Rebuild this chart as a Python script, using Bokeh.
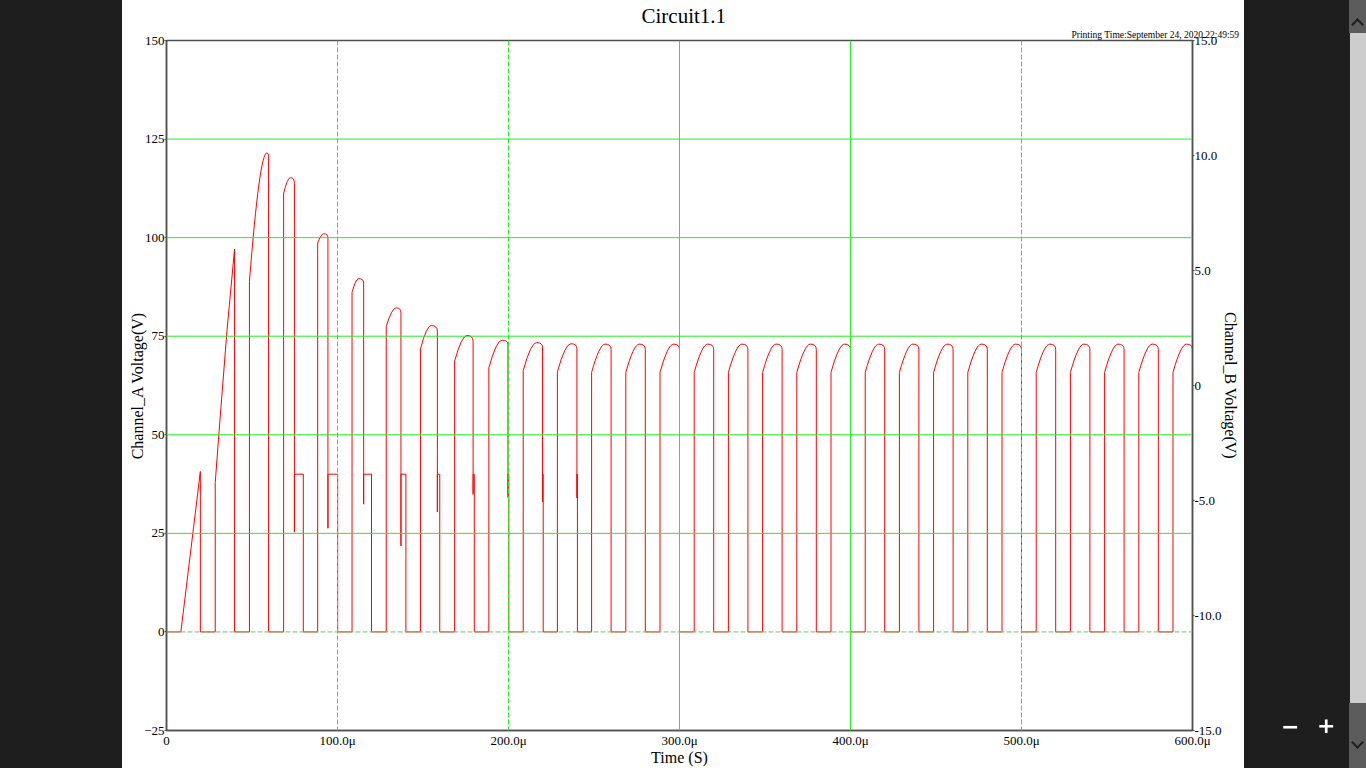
import numpy as np
from bokeh.plotting import figure
from bokeh.models import (Range1d, LinearAxis, FixedTicker, Span, Title,
                          GlobalInlineStyleSheet)
from bokeh.embed import file_html
from bokeh.resources import INLINE

# ---------------- data (time in microseconds, Channel_A voltage in V) ----------------
# start-up part: first two ramps
startup_t = [0.0, 8.4, 19.8, 19.8, 28.5, 28.5, 30.4, 35.4, 39.8, 39.8, 48.5]
startup_v = [0.0, 0.0, 40.7, 0.0, 0.0, 37.9, 48.9, 76.6, 97.1, 0.0, 0.0]

# following pulses: rise instant / level, peak, end of cap, clamp dip, hold end
rise_t = [48.5, 68.5, 88.4, 108.5, 128.5, 148.5, 168.5, 188.5, 208.6, 228.6,
          248.6, 268.6, 288.6, 308.6, 328.6, 348.6, 368.6, 388.6, 408.6, 428.6,
          448.6, 468.6, 488.6, 508.6, 528.6, 548.6, 568.6, 588.6]
rise_v = [88.9, 111.3, 98.6, 86.1, 77.5, 71.8, 68.7, 67.0, 66.3, 66.0,
          65.8, 65.8, 65.8, 65.8, 65.8, 65.8, 65.8, 65.8, 65.8, 65.8,
          65.8, 65.8, 65.8, 65.8, 65.8, 65.8, 65.8, 65.8]
peak_t = [58.7, 72.4, 91.9, 112.3, 134.3, 154.8, 175.7, 196.2, 216.4, 236.5,
          256.5, 276.5, 296.5, 316.5, 336.5, 356.5, 376.5, 396.5, 416.5, 436.5,
          456.5, 476.5, 496.5, 516.5, 536.5, 556.5, 576.5, 596.5]
peak_v = [121.5, 115.2, 101.0, 89.6, 82.2, 77.7, 75.2, 74.0, 73.4, 73.1,
          73.0, 73.0, 73.0, 73.0, 73.0, 73.0, 73.0, 73.0, 73.0, 73.0,
          73.0, 73.0, 73.0, 73.0, 73.0, 73.0, 73.0, 73.0]
cap_t = [59.7, 74.8, 94.4, 115.3, 137.1, 158.4, 179.3, 199.7, 219.9, 240.0,
         260.0, 280.0, 300.0, 320.0, 340.0, 360.0, 380.0, 400.0, 420.0, 440.0,
         460.0, 480.0, 500.0, 520.0, 540.0, 560.0, 580.0, 600.0]
cap_v = [120.5, 113.8, 99.9, 88.5, 80.9, 76.3, 73.7, 72.9, 72.2, 71.8,
         71.6, 71.6, 71.6, 71.6, 71.6, 71.6, 71.6, 71.6, 71.6, 71.6,
         71.6, 71.6, 71.6, 71.6, 71.6, 71.6, 71.6, 71.6]
dip_v = [None, 25.3, 26.3, 32.4, 21.8, 30.4, 34.9, 34.1, 33.0, 34.0,
         None, None, None, None, None, None, None, None, None, None,
         None, None, None, None, None, None, None, 33.7]
hold_end_t = [None, 80.0, 100.1, 119.9, 140.0, 159.8, 180.0, 200.2, 220.3, 240.3,
              None, None, None, None, None, None, None, None, None, None,
              None, None, None, None, None, None, None, None]
hold_v = 40.0

x_ticks = [0, 100, 200, 300, 400, 500, 600]
x_tick_labels = ["0", "100.0\u03bc", "200.0\u03bc", "300.0\u03bc", "400.0\u03bc", "500.0\u03bc", "600.0\u03bc"]
y_ticks = [-25, 0, 25, 50, 75, 100, 125, 150]
yb_ticks = [-15, -10, -5, 0, 5, 10, 15]
yb_tick_labels = ["-15.0", "-10.0", "-5.0", "0", "5.0", "10.0", "15.0"]
grid_x_dashed = [100, 200, 500]
grid_x_solid = [300, 400]
grid_y_solid = [25, 50, 75, 100, 125]
grid_y_dashed = [0]

# ---------------- build trace pieces ----------------
xs, ys = [], []
xs.append(list(startup_t) + [rise_t[0]])
ys.append(list(startup_v) + [rise_v[0]])
n = len(rise_t)
for i in range(n):
    px = [cap_t[i]]
    py = [cap_v[i]]
    if dip_v[i] is not None:
        px.append(cap_t[i]); py.append(dip_v[i])
        if hold_end_t[i] is not None:
            px += [cap_t[i], hold_end_t[i], hold_end_t[i]]
            py += [hold_v, hold_v, 0.0]
    else:
        px.append(cap_t[i]); py.append(0.0)
    if i + 1 < n and (dip_v[i] is None or hold_end_t[i] is not None):
        px += [rise_t[i + 1], rise_t[i + 1]]
        py += [0.0, rise_v[i + 1]]
    xs.append(px)
    ys.append(py)

arc_bend = 0.58
rt = np.array(rise_t); pt = np.array(peak_t)
ctrl_t = rt + arc_bend * (pt - rt)

SERIF = "Liberation Serif"
AX = "#505050"
GRID = "#22ee22"
RED = "#ff0000"

p = figure(width=1366, height=768, x_range=Range1d(0, 600), y_range=Range1d(-25, 150),
           output_backend="svg", toolbar_location=None,
           min_border_left=166, min_border_right=174, min_border_top=40, min_border_bottom=36,
           border_fill_color=None, background_fill_color="white",
           outline_line_color=AX, outline_line_width=1.5)
p.xgrid.visible = False
p.ygrid.visible = False

# title + printing time (stacked above the frame)
p.title.text = "Circuit1.1"
p.title.align = "left"
p.title.offset = 475
p.title.standoff = 0
p.title.text_font = SERIF
p.title.text_font_size = "21px"
p.title.text_font_style = "normal"
p.title.text_color = "black"
stamp = Title(text="Printing Time:September 24, 2020 22:49:59", align="left", offset=905,
              standoff=1, text_font=SERIF, text_font_size="9.5px",
              text_font_style="normal", text_color="black")
p.add_layout(stamp, "above")

# grid lines
for g in grid_x_dashed:
    p.add_layout(Span(location=g, dimension="height", line_color=GRID, line_width=1, line_dash="5 2"))
for g in grid_x_solid:
    p.add_layout(Span(location=g, dimension="height", line_color=GRID, line_width=1))
for g in grid_y_solid:
    p.add_layout(Span(location=g, dimension="width", line_color=GRID, line_width=1))
for g in grid_y_dashed:
    p.add_layout(Span(location=g, dimension="width", line_color="#66cc66", line_width=1, line_dash="5 2"))

# trace
p.multi_line(xs, ys, line_color=RED, line_width=1)
p.quadratic(x0=rise_t, y0=rise_v, x1=peak_t, y1=peak_v, cx=list(ctrl_t), cy=peak_v,
            line_color=RED, line_width=1)
p.quadratic(x0=peak_t, y0=peak_v, x1=cap_t, y1=cap_v, cx=cap_t, cy=peak_v,
            line_color=RED, line_width=1)

# axes
xa = p.xaxis[0]
xa.ticker = FixedTicker(ticks=x_ticks)
xa.major_label_overrides = dict(zip(x_ticks, x_tick_labels))
xa.major_tick_out = 0
xa.major_tick_in = 0
xa.minor_tick_out = 0
xa.minor_tick_in = 0
xa.major_label_standoff = 2
xa.axis_label = "Time (S)"
xa.axis_label_standoff = -2
xa.axis_line_color = AX
xa.axis_line_width = 1.5

ya = p.yaxis[0]
ya.ticker = FixedTicker(ticks=y_ticks)
ya.major_tick_out = 2
ya.major_tick_in = 0
ya.minor_tick_out = 0
ya.minor_tick_in = 0
ya.major_label_standoff = 0
ya.axis_label = "Channel_A Voltage(V)"
ya.axis_label_standoff = -5
ya.axis_line_color = AX
ya.axis_line_width = 1.5
ya.major_tick_line_color = AX

p.extra_y_ranges = {"b": Range1d(-15, 15)}
yb = LinearAxis(y_range_name="b", ticker=FixedTicker(ticks=yb_ticks))
yb.major_label_overrides = dict(zip(yb_ticks, yb_tick_labels))
yb.major_tick_out = 2
yb.major_tick_in = 0
yb.minor_tick_out = 0
yb.minor_tick_in = 0
yb.major_label_standoff = 0
yb.axis_label = "Channel_B Voltage(V)"
yb.axis_label_standoff = -3
yb.axis_line_color = AX
yb.axis_line_width = 1.5
yb.major_tick_line_color = AX
p.add_layout(yb, "right")

for ax in (xa, ya, yb):
    ax.major_label_text_font = SERIF
    ax.major_label_text_font_size = "13px"
    ax.major_label_text_color = "#000000"
    ax.axis_label_text_font = SERIF
    ax.axis_label_text_font_size = "16px"
    ax.axis_label_text_font_style = "normal"
    ax.axis_label_text_color = "#000000"

page_css = GlobalInlineStyleSheet(css="""
html { height: 100%;
  background:
    linear-gradient(#5c5c5c, #5c5c5c) 1349px 0px / 17px 33px no-repeat,
    linear-gradient(#cdcdcd, #cdcdcd) 1350px 33px / 16px 670px no-repeat,
    linear-gradient(#5c5c5c, #5c5c5c) 1349px 703px / 17px 65px no-repeat,
    linear-gradient(to right, #1e1e1e 122px, #ffffff 122px, #ffffff 1244px, #1e1e1e 1244px);
}
body { background: transparent; }
html::before { content: "\\2212"; position: fixed; left: 1281px; top: 714px;
  color: #ffffff; font: bold 22px 'DejaVu Sans'; z-index: 5; }
html::after { content: "+"; position: fixed; left: 1317px; top: 713px;
  color: #ffffff; font: bold 22px 'DejaVu Sans'; z-index: 5; }
body::before { content: ""; position: fixed; left: 1353px; top: 20px; width: 7px; height: 7px;
  border-left: 2px solid #1e1e1e; border-top: 2px solid #1e1e1e; transform: rotate(45deg); z-index: 5; }
body::after { content: ""; position: fixed; left: 1353px; top: 738px; width: 7px; height: 7px;
  border-right: 2px solid #1e1e1e; border-bottom: 2px solid #1e1e1e; transform: rotate(45deg); z-index: 5; }
""")
p.stylesheets = [page_css]

open("out.html", "w").write(file_html(p, INLINE))
